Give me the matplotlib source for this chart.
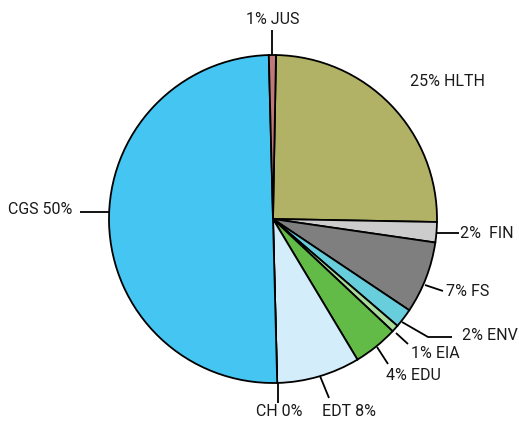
import matplotlib
matplotlib.use("Agg")
import matplotlib.pyplot as plt

# Data (clockwise from top)
categories = ["HLTH", "FIN", "FS", "ENV", "EIA", "EDU", "EDT", "CH", "CGS", "JUS"]
values = [25.0, 2.0, 7.1, 1.9, 0.7, 4.4, 8.2, 0.0, 50.0, 0.7]
labels = ["25% HLTH", "2%  FIN", "7% FS", "2% ENV", "1% EIA", "4% EDU",
          "EDT 8%", "CH 0%", "CGS 50%", "1% JUS"]
colors = ["#B2B266", "#CCCCCC", "#7F7F7F", "#69CEDC", "#A9DC9A", "#62BB46",
          "#D3EEFA", "#D3EEFA", "#45C5F2", "#C07878"]

W, H = 519, 421
fig = plt.figure(figsize=(W / 100, H / 100), dpi=100)
ax = fig.add_axes([0, 0, 1, 1])

def Y(y):
    return H - y

cx, cy, r = 273, 219, 164
ax.pie(values, colors=colors, startangle=88.95, counterclock=False,
       center=(cx, Y(cy)), radius=r,
       wedgeprops=dict(edgecolor="black", linewidth=1.3))

ax.set_xlim(0, W)
ax.set_ylim(0, H)
ax.set_aspect("equal")
ax.axis("off")

# layout of labels: (x, y, ha) in pixel coords and leader polylines
label_pos = {
    "HLTH": (410, 82, "left"),
    "FIN": (460, 234, "left"),
    "FS": (446, 292, "left"),
    "ENV": (462, 336, "left"),
    "EIA": (411, 353, "left"),
    "EDU": (386, 376, "left"),
    "EDT": (322, 412, "left"),
    "CH": (256, 412, "left"),
    "CGS": (72, 210, "right"),
    "JUS": (273, 20, "center"),
}
leaders = {
    "FIN": [(437, 233), (459, 233)],
    "FS": [(425, 285), (443, 291)],
    "ENV": [(402, 322), (428, 337), (452, 337)],
    "EIA": [(396, 333), (408, 344)],
    "EDU": [(377, 347), (388, 364)],
    "EDT": [(320, 376), (329, 398)],
    "CH": [(278, 383), (278, 403)],
    "CGS": [(80, 212), (109, 212)],
    "JUS": [(272, 55), (272, 30)],
}

font = ["Roboto", "DejaVu Sans"]
for cat, lab in zip(categories, labels):
    x, y, ha = label_pos[cat]
    ax.text(x, Y(y), lab, ha=ha, va="center", fontsize=11.5, family=font,
            color="#1a1a1a")
    if cat in leaders:
        pts = leaders[cat]
        ax.plot([p[0] for p in pts], [Y(p[1]) for p in pts], color="black",
                lw=1.3, solid_capstyle="butt")

fig.savefig("out.png", dpi=100)
